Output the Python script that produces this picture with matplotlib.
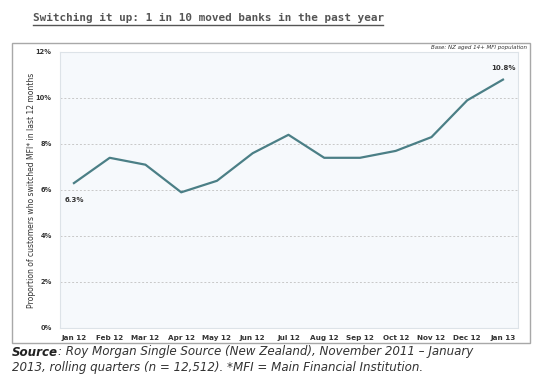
import matplotlib.pyplot as plt
from matplotlib.patches import Rectangle

months = ['Jan 12', 'Feb 12', 'Mar 12', 'Apr 12', 'May 12', 'Jun 12', 'Jul 12',
          'Aug 12', 'Sep 12', 'Oct 12', 'Nov 12', 'Dec 12', 'Jan 13']
switched = [6.3, 7.4, 7.1, 5.9, 6.4, 7.6, 8.4, 7.4, 7.4, 7.7, 8.3, 9.9, 10.8]
y_ticks = [0, 2, 4, 6, 8, 10, 12]

W, H = 540, 381
fig = plt.figure(figsize=(W / 100, H / 100), dpi=100)
fig.patch.set_facecolor('white')

# outer chart box
box = Rectangle((12 / W, 1 - 343 / H), (530 - 12) / W, (343 - 43) / H,
                transform=fig.transFigure, facecolor='white',
                edgecolor='#a8a8a8', linewidth=1.0, zorder=-1)
fig.add_artist(box)

ax = fig.add_axes([60 / W, 1 - 328 / H, (518 - 60) / W, (328 - 52) / H])
ax.set_zorder(2)
ax.set_facecolor('#f6f9fc')
x = list(range(len(months)))
ax.plot(x, switched, color='#4b7f86', linewidth=1.6, zorder=3)

ax.set_xlim(-0.39, 12.42)
ax.set_ylim(0, 12)
ax.set_yticks(y_ticks)
ax.set_yticklabels([f'{t}%' for t in y_ticks], fontsize=4.8, fontweight='bold',
                   color='#333333')
ax.set_xticks(x)
ax.set_xticklabels(months, fontsize=5.2, fontweight='bold', color='#333333')
ax.tick_params(axis='both', length=0, pad=5)
ax.tick_params(axis='y', pad=6)
ax.grid(axis='y', linestyle=(0, (2, 2)), color='#c8c8c8', linewidth=0.7)
for s in ax.spines.values():
    s.set_color('#dde3e8')
    s.set_linewidth(0.8)

ax.set_ylabel("Proportion of customers who switched MFI* in last 12 months",
              fontsize=5.5, color='#333333', va='center')
ax.yaxis.set_label_coords(-28 / 458, 0.5)

ax.annotate(f'{switched[0]}%', (x[0], switched[0]), xytext=(0, -12),
            textcoords='offset points', ha='center', va='center',
            fontsize=5, fontweight='bold', color='#333333')
ax.annotate(f'{switched[-1]}%', (x[-1], switched[-1]), xytext=(0, 8),
            textcoords='offset points', ha='center', va='center',
            fontsize=5, fontweight='bold', color='#333333')

fig.text(527 / W, 1 - 48 / H, 'Base: NZ aged 14+ MFI population',
         ha='right', va='center', fontsize=4, style='italic', color='#333333')

# title
fig.text(33 / W, 1 - 18 / H, 'Switching it up: 1 in 10 moved banks in the past year',
         ha='left', va='center', fontsize=7.9, fontweight='bold',
         color='#555555', family='DejaVu Sans Mono')
fig.add_artist(plt.Line2D([33 / W, 383 / W], [1 - 25 / H, 1 - 25 / H],
                          transform=fig.transFigure, color='#555555',
                          linewidth=1.0))

# source note
src = fig.text(12 / W, 1 - 352 / H, 'Source', ha='left', va='center', fontsize=8.6,
               fontweight='bold', style='italic', color='#222222')
fig.canvas.draw()
bb = src.get_window_extent()
fig.text(bb.x1 / W, 1 - 352 / H,
         ': Roy Morgan Single Source (New Zealand), November 2011 \u2013 January',
         ha='left', va='center', fontsize=8.6, style='italic', color='#333333')
fig.text(12 / W, 1 - 367 / H,
         '2013, rolling quarters (n = 12,512). *MFI = Main Financial Institution.',
         ha='left', va='center', fontsize=8.6, style='italic', color='#333333')

fig.savefig('out.png', dpi=100)
